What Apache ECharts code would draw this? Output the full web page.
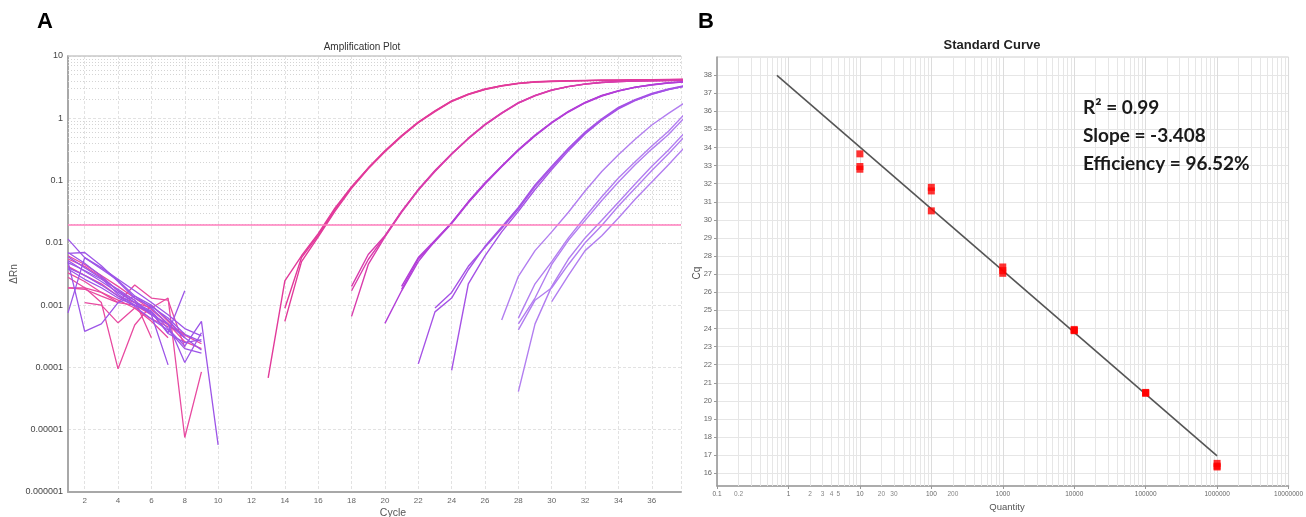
<!DOCTYPE html>
<html><head><meta charset="utf-8">
<script src="https://cdn.jsdelivr.net/npm/echarts@6/dist/echarts.min.js"></script>
<style>html,body{margin:0;padding:0;background:#fff}#c{width:1306px;height:517px}</style>
</head><body><div id="c"></div>
<script>
// ================= Panel A : Amplification Plot =================
const cycleMin = 1, cycleMax = 37.75;
const rnMin = 1e-6, rnMax = 10;
const threshold = 0.01928;
const decadesA = [1e-6, 1e-5, 1e-4, 1e-3, 1e-2, 1e-1, 1];
const minorMult = [2, 3, 4, 5, 6, 7, 8, 9];

// baseline noise traces (values from cycle 1)
const noise1 = [0.0115, 0.0058, 0.0040, 0.0026, 0.0017, 0.0011, 0.0007, 0.00042, 0.00032];
const noise2 = [0.0068, 0.0070, 0.0043, 0.0024, 0.0013, 0.00095, 0.00062, 0.00034, 0.00026];
const noise3 = [0.0050, 0.00038, 0.00050, 0.0011, 0.0014, 0.0010, 0.00058, 0.00030];
const noise4 = [0.0062, 0.0045, 0.0030, 0.0020, 0.0013, 0.00085, 0.00050, 0.00026, 0.00020];
const noise5 = [0.0028, 0.0019, 0.0011, 0.000095, 0.00048, 0.0010, 0.00055, 0.00030];
const noise6 = [0.0042, 0.0030, 0.0022, 0.0014, 0.0011, 0.0009, 0.0013, 0.0000075, 0.000085];
const noise7 = [0.0019, 0.0018, 0.0014, 0.0011, 0.0021, 0.0013, 0.0012, 0.00021];
const noise8 = [0.0052, 0.0035, 0.0024, 0.0016, 0.0011, 0.0008, 0.00042, 0.00022, 0.00055, 0.0000057];
const noise9 = [0.0060, 0.0040, 0.0027, 0.0015, 0.0010, 0.00075, 0.00036, 0.0017];
const noise10 = [0.0040, 0.0030, 0.0021, 0.0014, 0.00095, 0.0006, 0.0004, 0.0002, 0.00017];
const noise11 = [0.0019, 0.0019, 0.0016, 0.0012, 0.0009, 0.00055, 0.0003];
const noise12 = [null, 0.0011, 0.0010, 0.00052, 0.0009, 0.0006, 0.00045, 0.00035];
const noise13 = [0.00075, 0.0058, 0.0038, 0.0025, 0.0014, 0.0009, 0.0005, 0.0003, 0.00019];
const noise14 = [0.0048, 0.0036, 0.0026, 0.0018, 0.0012, 0.0007, 0.00011];
const noise15 = [0.0055, 0.0042, 0.0028, 0.0017, 0.0012, 0.0003];
const noise16 = [0.0038, 0.0026, 0.0019, 0.0013, 0.0010, 0.00078, 0.00035, 0.00025, 0.00028];
const noise17 = [0.0033, 0.0024, 0.0016, 0.0011, 0.0010, 0.0007, 0.00048, 0.00033, 0.00024];
const noise18 = [0.0070, 0.0047, 0.0029, 0.0017, 0.0011, 0.0007, 0.0005, 0.00012, 0.00036];
const noisePink = [noise4, noise5, noise6, noise7, noise11, noise12, noise15, noise17];
const noisePurple = [noise1, noise2, noise3, noise8, noise9, noise10, noise13, noise14, noise16, noise18];

// amplification traces: [first cycle, values...]
const g1a = [13, 0.000068, 0.00246, 0.0062, 0.0140, 0.036, 0.080, 0.16, 0.30, 0.53, 0.87, 1.32, 1.9, 2.45, 2.95, 3.35, 3.65, 3.85, 3.95, 4.0, 4.05, 4.1, 4.1, 4.15, 4.15, 4.2, 4.2];
const g1b = [14, 0.00089, 0.0058, 0.0132, 0.034, 0.078, 0.158, 0.295, 0.52, 0.86, 1.3, 1.88, 2.43, 2.93, 3.33, 3.63, 3.83, 3.93, 3.98, 4.03, 4.08, 4.1, 4.13, 4.15, 4.18, 4.2];
const g1c = [14, 0.00055, 0.0050, 0.0125, 0.032, 0.075, 0.155, 0.29, 0.51, 0.85, 1.28, 1.86, 2.4, 2.9, 3.3, 3.6, 3.8, 3.9, 3.97, 4.02, 4.06, 4.1, 4.12, 4.14, 4.17, 4.19];
const g2a = [18, 0.0020, 0.0065, 0.013, 0.032, 0.072, 0.145, 0.27, 0.48, 0.8, 1.22, 1.78, 2.33, 2.85, 3.25, 3.55, 3.78, 3.9, 3.97, 4.02, 4.06, 4.1];
const g2b = [18, 0.0017, 0.0054, 0.0128, 0.032, 0.071, 0.143, 0.268, 0.475, 0.79, 1.21, 1.76, 2.31, 2.83, 3.23, 3.54, 3.76, 3.89, 3.96, 4.01, 4.05, 4.09];
const g2c = [18, 0.00066, 0.0045, 0.0125, 0.031, 0.07, 0.14, 0.265, 0.47, 0.78, 1.2, 1.75, 2.3, 2.82, 3.22, 3.53, 3.75, 3.88, 3.95, 4.0, 4.04, 4.08];
const g3a = [21, 0.0020, 0.0058, 0.011, 0.021, 0.045, 0.09, 0.17, 0.31, 0.53, 0.85, 1.28, 1.78, 2.3, 2.75, 3.15, 3.45, 3.7, 3.85];
const g3b = [21, 0.0018, 0.0055, 0.0105, 0.0205, 0.044, 0.088, 0.167, 0.305, 0.52, 0.84, 1.26, 1.76, 2.28, 2.73, 3.13, 3.43, 3.68, 3.83];
const g3c = [20, 0.00051, 0.0017, 0.005, 0.0108, 0.021, 0.046, 0.092, 0.172, 0.315, 0.54, 0.86, 1.29, 1.8, 2.32, 2.77, 3.17, 3.47, 3.72, 3.87];
const g4a = [22, 0.000114, 0.00078, 0.0013, 0.0037, 0.0088, 0.018, 0.037, 0.085, 0.17, 0.33, 0.6, 0.98, 1.5, 2.0, 2.5, 2.95, 3.35];
const g4b = [23, 0.0009, 0.0016, 0.0042, 0.0085, 0.017, 0.035, 0.08, 0.16, 0.32, 0.58, 0.95, 1.45, 1.95, 2.45, 2.9, 3.3];
const g4c = [24, 0.00009, 0.0022, 0.0062, 0.015, 0.032, 0.072, 0.15, 0.3, 0.56, 0.93, 1.42, 1.93, 2.42, 2.88, 3.3];
const g5a = [27, 0.00058, 0.0029, 0.0075, 0.015, 0.031, 0.068, 0.14, 0.26, 0.46, 0.78, 1.2, 1.8];
const g5b = [28, 0.00062, 0.0022, 0.005, 0.012, 0.026, 0.055, 0.11, 0.2, 0.36, 0.62, 1.2];
const g5c = [28, 0.0005, 0.0013, 0.0045, 0.011, 0.023, 0.048, 0.095, 0.18, 0.32, 0.55, 1.05];
const g6a = [28, 0.000041, 0.0005, 0.002, 0.0055, 0.012, 0.023, 0.045, 0.088, 0.17, 0.31, 0.6];
const g6b = [28, 0.0004, 0.0012, 0.0019, 0.0045, 0.01, 0.019, 0.039, 0.075, 0.145, 0.27, 0.52];
const g6c = [30, 0.00114, 0.003, 0.0075, 0.013, 0.025, 0.05, 0.095, 0.18, 0.35];

// ================= Panel B : Standard Curve =================
const qtyMin = 0.1, qtyMax = 1e7;
const cqMin = 15.3, cqMax = 39;
const decadesB = [0.1, 1, 10, 100, 1000, 10000, 100000, 1000000];
const qtyMinorLabels = [0.2, 2, 3, 4, 5, 20, 30, 200];
const stdQty = [10, 10, 10, 100, 100, 100, 1000, 1000, 1000, 10000, 10000, 10000, 100000, 100000, 100000, 1000000, 1000000, 1000000];
const stdCq = [33.65, 32.95, 32.8, 31.8, 31.6, 30.5, 27.4, 27.2, 27.05, 23.95, 23.9, 23.88, 20.47, 20.45, 20.42, 16.55, 16.4, 16.35];
const fitQty = [0.69, 1000000];
const fitCq = [37.98, 16.97];
const statsText = ['R\u00B2 = 0.99', 'Slope = -3.408', 'Efficiency = 96.52%'];

// ---------------- build ----------------
const colNoisePink = '#e84aa0', colNoisePurple = '#9d55e8';
const groupColors = {g1: '#e23a9a', g2: '#d93cac', g3: '#b33ed8', g4: '#a552e6', g5: '#b27ef0'};

function fromStart(arr) { return arr.slice(1).map((v, i) => [arr[0] + i, v]); }
function fromOne(arr) { return arr.map((v, i) => [1 + i, v]).filter(p => p[1] != null); }
const minorA = decadesA.flatMap(d => minorMult.map(m => +(m * d).toPrecision(3)));
const minorB = decadesB.flatMap(d => minorMult.map(m => +(m * d).toPrecision(3)));

function logLabel(v) {
  const e = Math.round(Math.log10(v));
  return e < 0 ? Math.pow(10, e).toFixed(-e) : String(Math.round(Math.pow(10, e)));
}

const series = [];
// minor grid A
series.push({type: 'line', xAxisIndex: 0, yAxisIndex: 0, data: [[cycleMin, rnMax]], symbol: 'none', silent: true, z: 1, animation: false,
  markLine: {z: 1, silent: true, symbol: 'none', animation: false, label: {show: false}, lineStyle: {color: '#d4d4d4', type: [1, 2], width: 1}, data: minorA.map(v => ({yAxis: v}))}});
// top border A
series.push({type: 'line', xAxisIndex: 0, yAxisIndex: 0, data: [[cycleMin, rnMax]], symbol: 'none', silent: true, z: 1, animation: false,
  markLine: {z: 1, silent: true, symbol: 'none', animation: false, label: {show: false}, lineStyle: {color: '#c8c8c8', type: 'solid', width: 1.5}, data: [{yAxis: rnMax}]}});
// minor grid B
series.push({type: 'line', xAxisIndex: 1, yAxisIndex: 1, data: [[qtyMin, cqMax]], symbol: 'none', silent: true, z: 1, animation: false,
  markLine: {z: 1, silent: true, symbol: 'none', animation: false, label: {show: false}, lineStyle: {color: '#e6e6e6', type: 'solid', width: 1}, data: minorB.map(v => ({xAxis: v}))}});

noisePink.forEach(a => series.push({type: 'line', xAxisIndex: 0, yAxisIndex: 0, data: fromOne(a), symbol: 'none', z: 3, animation: false, lineStyle: {color: colNoisePink, width: 1.3}}));
noisePurple.forEach(a => series.push({type: 'line', xAxisIndex: 0, yAxisIndex: 0, data: fromOne(a), symbol: 'none', z: 3, animation: false, lineStyle: {color: colNoisePurple, width: 1.3}}));
const groups = [['g1', [g1a, g1b, g1c]], ['g2', [g2a, g2b, g2c]], ['g3', [g3a, g3b, g3c]], ['g4', [g4a, g4b, g4c]], ['g5', [g5a, g5b, g5c, g6a, g6b, g6c]]];
groups.forEach(([k, arrs]) => arrs.forEach(a => series.push({type: 'line', xAxisIndex: 0, yAxisIndex: 0, data: fromStart(a), symbol: 'none', z: 3, animation: false, lineStyle: {color: groupColors[k], width: 1.4}})));
// threshold
series.push({type: 'line', xAxisIndex: 0, yAxisIndex: 0, data: [[cycleMin, threshold], [cycleMax, threshold]], symbol: 'none', z: 4, animation: false, lineStyle: {color: '#ff7dbd', width: 1.5}});
series.push({type: 'scatter', xAxisIndex: 0, yAxisIndex: 0, data: [[cycleMin, threshold]], symbolSize: 1, itemStyle: {opacity: 0}, z: 5, animation: false,
  label: {show: true, position: 'top', align: 'left', distance: 0, formatter: () => String(threshold), color: '#ff1a1a', fontFamily: 'Liberation Serif', fontWeight: 'bold', fontSize: 9}});

// Panel B
series.push({type: 'line', xAxisIndex: 1, yAxisIndex: 1, data: fitQty.map((q, i) => [q, fitCq[i]]), symbol: 'none', z: 3, animation: false, lineStyle: {color: '#555555', width: 1.6}});
series.push({type: 'scatter', xAxisIndex: 1, yAxisIndex: 1, data: stdQty.map((q, i) => [q, stdCq[i]]), symbol: 'rect', symbolSize: [7, 7], z: 4, animation: false, itemStyle: {color: '#ff0000'}});
series.push({type: 'scatter', xAxisIndex: 1, yAxisIndex: 1, data: qtyMinorLabels.map(q => [q, cqMin]), symbolSize: 0, z: 4, animation: false, silent: true,
  label: {show: true, position: 'bottom', distance: 5, formatter: p => String(p.value[0]), color: '#666', fontSize: 6.5, fontFamily: 'Liberation Sans'}});

const option = {
  backgroundColor: '#ffffff',
  animation: false,
  grid: [
    {left: 68, top: 56, width: 613, height: 436, show: false},
    {left: 717, top: 57, width: 581, height: 429, show: true, borderColor: '#cfcfcf', borderWidth: 1, backgroundColor: 'transparent'}
  ],
  xAxis: [
    {type: 'value', gridIndex: 0, min: cycleMin, max: cycleMax, minInterval: 2, maxInterval: 2,
      axisLine: {lineStyle: {color: '#a8a8a8', width: 2}}, axisTick: {show: false},
      axisLabel: {showMinLabel: false, showMaxLabel: false, color: '#666', fontSize: 8, margin: 5, fontFamily: 'Liberation Sans'},
      splitLine: {show: true, lineStyle: {color: '#e2e2e2', type: [3, 2], width: 1}}},
    {type: 'log', gridIndex: 1, min: qtyMin, max: qtyMax, logBase: 10, splitNumber: 8,
      axisLine: {lineStyle: {color: '#999', width: 1.5}}, axisTick: {show: true, length: 3, lineStyle: {color: '#999'}},
      axisLabel: {formatter: logLabel, color: '#666', fontSize: 6.5, margin: 5, fontFamily: 'Liberation Sans'},
      splitLine: {show: true, lineStyle: {color: '#dcdcdc', width: 1}}}
  ],
  yAxis: [
    {type: 'log', gridIndex: 0, min: rnMin, max: rnMax, logBase: 10, splitNumber: 7,
      axisLine: {show: true, lineStyle: {color: '#a8a8a8', width: 2}}, axisTick: {show: false},
      axisLabel: {formatter: logLabel, color: '#444', fontSize: 9, margin: 5, fontFamily: 'Liberation Sans'},
      splitLine: {show: true, lineStyle: {color: '#e2e2e2', type: [3, 2], width: 1}}},
    {type: 'value', gridIndex: 1, min: cqMin, max: cqMax, minInterval: 1, maxInterval: 1,
      axisLine: {show: true, lineStyle: {color: '#999', width: 1.5}}, axisTick: {show: true, length: 3, lineStyle: {color: '#999'}},
      axisLabel: {showMinLabel: false, showMaxLabel: false, color: '#666', fontSize: 7.5, margin: 5, fontFamily: 'Liberation Sans'},
      splitLine: {show: true, lineStyle: {color: '#e6e6e6', width: 1}}}
  ],
  graphic: [
    {type: 'text', z: 100, x: 45, y: 22, style: {text: 'A', font: 'bold 22px "Liberation Sans"', fill: '#000', textAlign: 'center', textVerticalAlign: 'middle'}},
    {type: 'text', z: 100, x: 706, y: 22, style: {text: 'B', font: 'bold 22px "Liberation Sans"', fill: '#000', textAlign: 'center', textVerticalAlign: 'middle'}},
    {type: 'text', z: 100, x: 362, y: 47, style: {text: 'Amplification Plot', font: '10px "Liberation Sans"', fill: '#333', textAlign: 'center', textVerticalAlign: 'middle'}},
    {type: 'text', z: 100, x: 992, y: 45, style: {text: 'Standard Curve', font: 'bold 13px "Liberation Sans"', fill: '#222', textAlign: 'center', textVerticalAlign: 'middle'}},
    {type: 'text', z: 100, x: 14, y: 274, rotation: Math.PI / 2, style: {text: '\u0394Rn', font: '10px "Liberation Sans"', fill: '#555', textAlign: 'center', textVerticalAlign: 'middle'}},
    {type: 'text', z: 100, x: 393, y: 513, style: {text: 'Cycle', font: '10.5px "Liberation Sans"', fill: '#555', textAlign: 'center', textVerticalAlign: 'middle'}},
    {type: 'text', z: 100, x: 697, y: 273, rotation: Math.PI / 2, style: {text: 'Cq', font: '10px "Liberation Sans"', fill: '#555', textAlign: 'center', textVerticalAlign: 'middle'}},
    {type: 'text', z: 100, x: 1007, y: 507, style: {text: 'Quantity', font: '9.5px "Liberation Sans"', fill: '#555', textAlign: 'center', textVerticalAlign: 'middle'}},
    ...statsText.map((t, i) => ({type: 'text', z: 100, x: 1083, y: 108 + i * 28, style: {text: t, font: 'bold 19px Lato', fill: '#1a1a1a', textAlign: 'left', textVerticalAlign: 'middle'}}))
  ],
  series: series
};
const chart = echarts.init(document.getElementById('c'));
chart.setOption(option);
</script>
</body></html>
